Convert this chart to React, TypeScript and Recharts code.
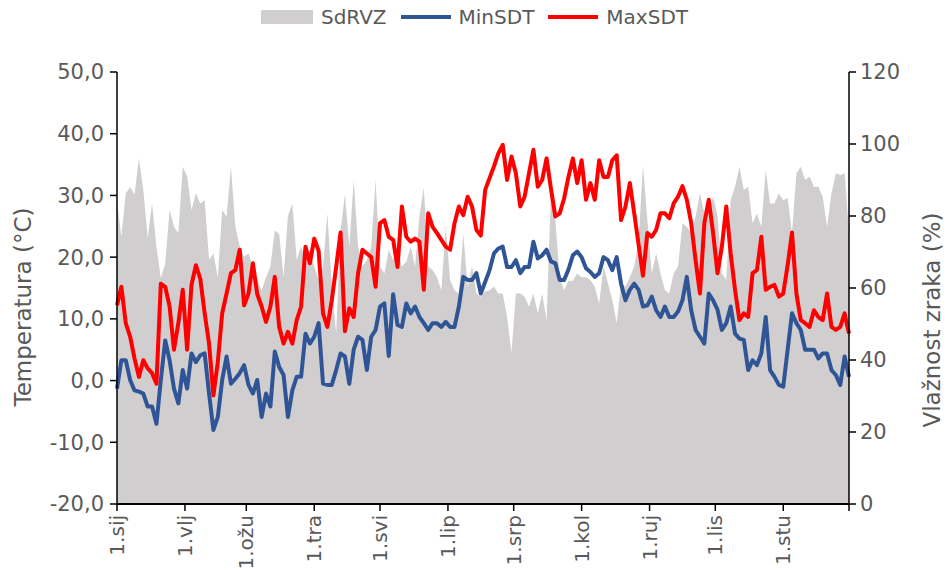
import React from "react";
import { ComposedChart, Area, Line, XAxis, YAxis, Label } from "recharts";

// x axis: day of year, a tick on the first of each month
const monthTicks = [0, 31, 59, 90, 120, 151, 181, 212, 243, 273, 304, 334];
const monthLabels = ["1.sij", "1.vlj", "1.ožu", "1.tra", "1.svi", "1.lip", "1.srp", "1.kol", "1.ruj", "1.lis", "1.stu", ""];

const tempTicks = [-20, -10, 0, 10, 20, 30, 40, 50];
const humTicks = [0, 20, 40, 60, 80, 100, 120];

// one value every second day, from 1.sij (day 0) to 1.pro (day 334)
const sdRVZ = [
  84, 74.3, 86.3, 88, 86, 96, 87.2, 73.8, 83.5, 71.5, 62.7, 66.9, 81.7, 77, 75.2, 93.7, 91, 81.7,
  86.3, 83.5, 84.4, 67.8, 69.6, 63, 81.7, 79.8, 93.7, 77, 71.5, 68.7, 69.6, 65.9, 62.2, 59.4, 63,
  66, 76, 75, 63, 80, 83.5, 67.8, 71.5, 67.8, 70.6, 66, 62.2, 66, 80.7, 60.4, 47.4, 76,
  86, 71.5, 90, 71.5, 66, 67.8, 71.5, 90, 66, 64, 70.6, 67.8, 71.5, 66, 67.3, 71.5, 66,
  80, 88, 66, 65, 63, 59.4, 77, 62.2, 59.4, 58.5, 75, 60.4, 66, 58.5, 57.6, 59, 59.4,
  60.4, 58.5, 58.5, 52, 42, 58.5, 58.5, 57.6, 54.8, 58.5, 53, 58.5, 51, 86.3, 78.9, 63, 59.4,
  62, 62, 64, 63, 63, 62.2, 60.4, 55.7, 66, 61.3, 56.7, 50.2, 61.3, 60.4, 63, 66, 73.3,
  94, 78.9, 64, 69.6, 64, 59.4, 58.5, 64, 66, 78, 77, 75.2, 79.8, 86.3, 80.7, 80.7, 85.4,
  80, 64, 62.2, 84.4, 88.1, 93.7, 87.2, 88.1, 78, 80.7, 77, 92.8, 83.5, 83.5, 86.3, 84.4, 85,
  75.2, 91.9, 93.7, 90, 91, 88.1, 88.1, 85.4, 77, 86.3, 91.9, 91.4, 91.9, 75.2,
];

const minSDT = [
  -1.3, 3.3, 3.3, 0.1, -1.6, -1.8, -2.1, -4.2, -4.2, -7, 0.1, 6.5, 3.3, -1.3, -3.7, 1.7, -1.3, 4.4,
  3, 4.1, 4.4, -2.1, -8, -5.9, 0.1, 3.9, -0.5, 0.3, 1.2, 2.5, -0.7, -2.1, 0.1, -5.9, -2.1,
  -4.2, 4.7, 2.2, 0.9, -5.9, -1.6, 0.6, 0.6, 7.6, 6, 7.1, 9.3, -0.5, -0.7, -0.7, 1.7, 4.4,
  3.9, -0.5, 5, 7.1, 6.6, 1.7, 7.1, 8.2, 12, 12.5, 4, 14, 9, 8.7, 12.5, 10.9, 12,
  10.3, 9.3, 8.2, 9.3, 9.3, 8.7, 9.5, 8.7, 8.7, 12, 16.8, 16.3, 16.3, 17.4, 14.1, 16, 17.9,
  20.6, 21.4, 21.7, 18.4, 18.4, 19.5, 17.4, 18.4, 18.4, 22.5, 19.8, 20.3, 21.2, 19.3, 19, 16.3, 16.3,
  18, 20.3, 20.9, 20, 18.2, 17.6, 16.8, 17.4, 20, 19.5, 17.9, 20, 15.7, 13, 14.7, 15.7, 14.7,
  12, 12.2, 13.6, 11.4, 10.3, 12, 10.3, 10.3, 11.2, 13, 16.8, 11.4, 8.2, 7.1, 6, 14.1, 13,
  11.5, 8.2, 9.3, 12, 7.6, 6.8, 6.6, 1.7, 3.3, 2.5, 4.4, 10.3, 1.7, 0.6, -0.7, -1, 5,
  10.9, 9.3, 8.2, 5, 5, 5, 3.6, 4.4, 4.4, 1.7, 0.9, -0.7, 3.9, 0.6,
];

const maxSDT = [
  12.2, 15.2, 9.3, 7.1, 3.6, 0.6, 3.3, 2, 1.2, -0.5, 15.7, 15.2, 12, 5, 9.3, 14.7, 5, 15.5,
  18.7, 16.5, 10.9, 6, -2.4, 3, 10.9, 14.1, 17.4, 17.9, 21.2, 12.2, 14.1, 19, 14, 12, 9.5,
  12, 16.8, 8.7, 6, 7.9, 6, 9.8, 12, 21.7, 19, 23, 21, 10.9, 8.7, 13, 18.4, 24,
  8, 11.7, 10.3, 17.4, 21.2, 20.6, 20, 15.2, 25.5, 26, 23.3, 22.8, 18.4, 28.2, 23.3, 22.5, 23,
  22.5, 14.7, 27.1, 24.9, 23.9, 22.8, 21.7, 21.2, 25.5, 28.2, 26.8, 29.8, 28.2, 24.4, 23.5, 30.9, 32.8,
  34.7, 36.8, 38.2, 32.5, 36.3, 33.6, 28.2, 29.8, 33.6, 37.4, 31.4, 32.5, 36, 31.1, 26.6, 27.1, 29.5,
  33, 36, 32, 35.7, 29.3, 32, 29.3, 35.7, 33, 33, 35.7, 36.5, 26, 28.2, 32, 27.1, 22,
  17, 23.9, 23.3, 24.4, 27.1, 27.1, 26.3, 28.7, 29.8, 31.5, 29.3, 25.5, 19.5, 14.1, 25.5, 29.3, 23.9,
  17.4, 21.7, 28.2, 20.6, 14.7, 9.8, 10.9, 10.3, 17.4, 17.9, 23.3, 14.7, 15.2, 15.5, 13.6, 14.1, 18.7,
  24, 14.1, 9.8, 9.3, 8.7, 11.4, 10.3, 9.8, 14.1, 8.7, 8.2, 8.7, 10.9, 7.6,
];

const chartData = maxSDT.map((v, i) => ({
  day: i * 2,
  SdRVZ: sdRVZ[i],
  MinSDT: minSDT[i],
  MaxSDT: v,
}));

const TEXT = "#595959";
const FONT = '"DejaVu Sans", sans-serif';

const MonthTick = ({ x, y, payload }: any) => {
  const idx = monthTicks.indexOf(payload.value);
  return (
    <text
      x={x}
      y={y}
      transform={`rotate(-90, ${x}, ${y})`}
      textAnchor="end"
      dominantBaseline="central"
      fill={TEXT}
      fontSize={20}
      fontFamily={FONT}
    >
      {monthLabels[idx]}
    </text>
  );
};

const fmtTemp = (v: number) => v.toFixed(1).replace(".", ",");

const LegendBox = () => (
  <div
    style={{
      position: "absolute",
      top: 5,
      left: 0,
      width: 949,
      display: "flex",
      justifyContent: "center",
      alignItems: "center",
      fontFamily: FONT,
      fontSize: 20,
      color: TEXT,
      gap: 8,
    }}
  >
    <span style={{ width: 52, height: 14, background: "#d0cecf", display: "inline-block" }} />
    <span style={{ marginRight: 6 }}>SdRVZ</span>
    <span style={{ width: 50, height: 4, background: "#2f5597", display: "inline-block" }} />
    <span style={{ marginRight: 6 }}>MinSDT</span>
    <span style={{ width: 50, height: 4, background: "#ff0000", display: "inline-block" }} />
    <span>MaxSDT</span>
  </div>
);

export default function App() {
  return (
    <div style={{ position: "absolute", left: 0, top: 0, width: 949, height: 571, background: "#fff" }}>
      <LegendBox />
      <ComposedChart
        width={949}
        height={571}
        data={chartData}
        margin={{ top: 72, right: 0, bottom: 0, left: 0 }}
      >
        <XAxis
          dataKey="day"
          type="number"
          domain={[0, 334]}
          ticks={monthTicks}
          interval={0}
          height={67}
          tick={<MonthTick />}
          tickSize={7}
          tickMargin={4}
          axisLine={{ stroke: "#000", strokeWidth: 2 }}
          tickLine={{ stroke: "#000", strokeWidth: 1.5 }}
        />
        <YAxis
          yAxisId="temp"
          domain={[-20, 50]}
          ticks={tempTicks}
          interval={0}
          width={117}
          tickFormatter={fmtTemp}
          tick={{ fill: TEXT, fontSize: 21, fontFamily: FONT }}
          tickSize={7}
          tickMargin={6}
          axisLine={{ stroke: "#000", strokeWidth: 1.5 }}
          tickLine={{ stroke: "#000", strokeWidth: 1.5 }}
        >
          <Label
            content={() => (
              <text
                x={23}
                y={307}
                transform="rotate(-90, 23, 307)"
                textAnchor="middle"
                dominantBaseline="central"
                fill={TEXT}
                fontSize={23}
                fontFamily={FONT}
              >
                Temperatura (°C)
              </text>
            )}
          />
        </YAxis>
        <YAxis
          yAxisId="hum"
          orientation="right"
          domain={[0, 120]}
          ticks={humTicks}
          interval={0}
          width={100}
          tick={{ fill: TEXT, fontSize: 21, fontFamily: FONT, textAnchor: "start" }}
          tickSize={7}
          tickMargin={4}
          axisLine={{ stroke: "#000", strokeWidth: 1.5 }}
          tickLine={{ stroke: "#000", strokeWidth: 1.5 }}
        >
          <Label
            content={() => (
              <text
                x={932}
                y={320}
                transform="rotate(-90, 932, 320)"
                textAnchor="middle"
                dominantBaseline="central"
                fill={TEXT}
                fontSize={23}
                fontFamily={FONT}
              >
                Vlažnost zraka (%)
              </text>
            )}
          />
        </YAxis>
        <Area
          yAxisId="hum"
          dataKey="SdRVZ"
          type="linear"
          fill="#d0cecf"
          fillOpacity={1}
          stroke="none"
          baseValue={0}
          isAnimationActive={false}
        />
        <Line
          yAxisId="temp"
          dataKey="MinSDT"
          type="linear"
          stroke="#2f5597"
          strokeWidth={4}
          strokeLinejoin="round"
          dot={false}
          isAnimationActive={false}
        />
        <Line
          yAxisId="temp"
          dataKey="MaxSDT"
          type="linear"
          stroke="#ff0000"
          strokeWidth={4}
          strokeLinejoin="round"
          dot={false}
          isAnimationActive={false}
        />
      </ComposedChart>
    </div>
  );
}
